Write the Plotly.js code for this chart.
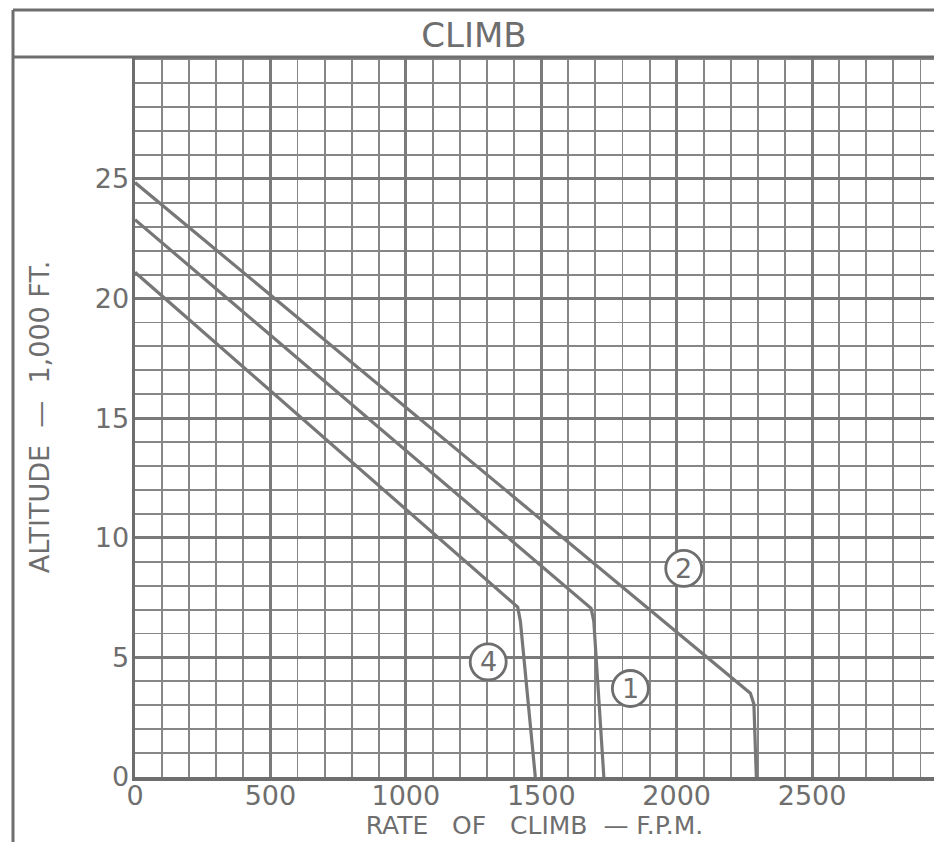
<!DOCTYPE html>
<html>
<head>
<meta charset="utf-8">
<script src="https://cdn.plot.ly/plotly-3.0.1.min.js"></script>
<style>html,body{margin:0;padding:0;background:#fff;}#chart{width:934px;height:842px;}</style>
</head>
<body>
<div id="chart"></div>
<script>
// Rate of climb (F.P.M.) vs altitude (1,000 ft) for each curve
const rate4 = [0, 1413, 1423, 1478];
const alt4  = [21.1, 7.1, 6.5, 0];
const rate1 = [0, 1684, 1694, 1731];
const alt1  = [23.3, 7.05, 6.5, 0];
const rate2 = [0, 2272, 2285, 2294];
const alt2  = [24.85, 3.5, 3.05, 0];

// Circled curve labels
const labelText = ['2', '4', '1'];
const labelRate = [2026, 1304, 1829];
const labelAlt  = [8.72, 4.81, 3.7];

const xTicks = [0, 500, 1000, 1500, 2000, 2500];
const yTicks = [0, 5, 10, 15, 20, 25];

const ink = '#6e6e6e';
const lineInk = '#777777';
const font = 'DejaVu Sans, sans-serif';

const mkTrace = (x, y, name) => ({
  x: x, y: y, name: name, type: 'scatter', mode: 'lines',
  line: {color: lineInk, width: 3.2}, hoverinfo: 'x+y'
});

const traces = [
  mkTrace(rate4, alt4, 'Curve 4'),
  mkTrace(rate1, alt1, 'Curve 1'),
  mkTrace(rate2, alt2, 'Curve 2')
];

// frame positions in paper units (plot area: x 135..934 px, y 57..777 px)
const pw = 799, ph = 720;
const px = v => (v - 135) / pw;
const py = v => (777 - v) / ph;

const shapes = [
  {type: 'line', xref: 'paper', yref: 'paper', x0: px(13), x1: px(13), y0: py(10), y1: py(850), line: {color: ink, width: 3}, layer: 'above'},
  {type: 'line', xref: 'paper', yref: 'paper', x0: px(13), x1: px(940), y0: py(10), y1: py(10), line: {color: ink, width: 3}, layer: 'above'},
  {type: 'line', xref: 'paper', yref: 'paper', x0: px(13), x1: px(940), y0: py(57), y1: py(57), line: {color: ink, width: 3}, layer: 'above'}
];
labelText.forEach((t, i) => {
  shapes.push({type: 'circle', xref: 'x', yref: 'y', xsizemode: 'pixel', ysizemode: 'pixel',
    xanchor: labelRate[i], yanchor: labelAlt[i], x0: -18, x1: 18, y0: -18, y1: 18,
    fillcolor: '#ffffff', line: {color: ink, width: 2.8}, layer: 'above'});
});

const annotations = labelText.map((t, i) => ({
  x: labelRate[i], y: labelAlt[i], xref: 'x', yref: 'y', text: t, showarrow: false,
  font: {family: font, size: 27, color: ink}, xanchor: 'center', yanchor: 'middle'
}));

const layout = {
  width: 934, height: 842,
  margin: {l: 135, r: 0, t: 57, b: 65},
  paper_bgcolor: '#ffffff', plot_bgcolor: '#ffffff',
  showlegend: false,
  font: {family: font, color: ink},
  title: {text: 'CLIMB', x: 474 / 934, xanchor: 'center', xref: 'container',
          y: 1 - 35 / 842, yanchor: 'middle', yref: 'container',
          font: {family: font, size: 34, color: ink}},
  xaxis: {
    range: [0, 2950], tickvals: xTicks, ticktext: xTicks.map(String),
    showgrid: true, gridcolor: '#7a7a7a', gridwidth: 3,
    minor: {dtick: 100, tick0: 0, showgrid: true, gridcolor: '#868686', gridwidth: 1.9},
    zeroline: false, showline: true, linecolor: ink, linewidth: 3.5,
    ticks: '', ticklabelstandoff: -8,
    tickfont: {family: font, size: 27, color: ink},
    title: {text: 'RATE\u00a0\u00a0 OF\u00a0\u00a0 CLIMB\u00a0 —\u00a0F.P.M.', standoff: 5,
            font: {family: font, size: 25, color: ink}},
    fixedrange: true
  },
  yaxis: {
    range: [0, 30.1], tickvals: yTicks, ticktext: yTicks.map(String),
    showgrid: true, gridcolor: '#7a7a7a', gridwidth: 3,
    minor: {dtick: 1, tick0: 0, showgrid: true, gridcolor: '#868686', gridwidth: 1.9},
    zeroline: false, showline: true, linecolor: ink, linewidth: 3.5,
    ticks: '', ticklabelstandoff: -3,
    tickfont: {family: font, size: 27, color: ink},
    title: {text: 'ALTITUDE \u00a0—\u00a0 1,000 FT.', standoff: 38,
            font: {family: font, size: 27, color: ink}},
    fixedrange: true
  },
  shapes: shapes,
  annotations: annotations
};

Plotly.newPlot('chart', traces, layout, {displayModeBar: false, staticPlot: true});
</script>
</body>
</html>
